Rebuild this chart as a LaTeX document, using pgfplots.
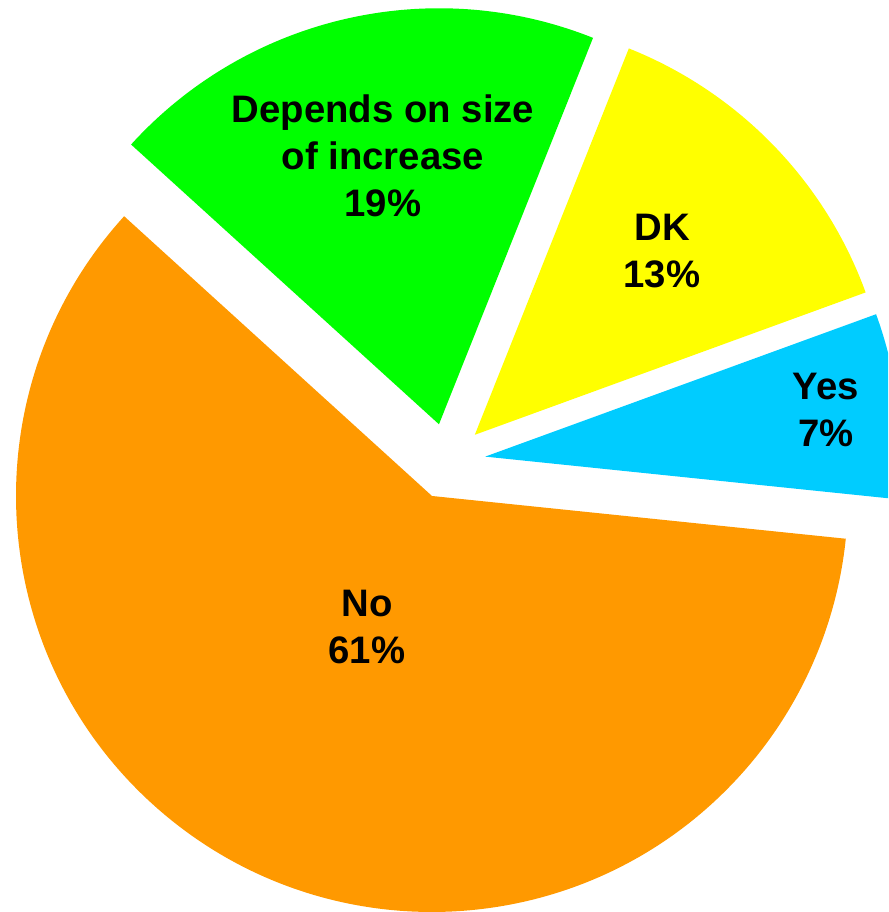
\documentclass[border=0pt]{standalone}
\usepackage{fontspec}
\setmainfont{Liberation Sans}
\usepackage{pgfplots}
\pgfplotsset{compat=1.18}

\definecolor{cblue}{HTML}{00CCFF}
\definecolor{cyellow}{HTML}{FFFF00}
\definecolor{cgreen}{HTML}{00FF00}
\definecolor{corange}{HTML}{FF9900}

% pie geometry in pixel units (1 px = 0.01 cm)
\def\pcx{447.5}\def\pcy{450.7}\def\pexp{38}\def\pstart{-5.9}

% #1 = cumulative share before the slice, #2 = share (%), #3 = colour
\newcommand\slice[3]{%
  \pgfmathsetmacro\aS{\pstart+3.6*#1}%
  \pgfmathsetmacro\aE{\pstart+3.6*(#1+#2)}%
  \pgfmathsetmacro\aM{(\aS+\aE)/2}%
  \pgfmathsetmacro\sx{\pcx+\pexp*cos(\aM)}%
  \pgfmathsetmacro\sy{\pcy+\pexp*sin(\aM)}%
  \edef\doslice{\noexpand\fill[#3] (axis cs:\sx,\sy) -- ++(\aS:4.16cm)
    arc[start angle=\aS,end angle=\aE,radius=4.16cm] -- cycle;}%
  \doslice
}

\begin{document}
\begin{tikzpicture}
\begin{axis}[
  width=8.88cm, height=9.12cm, scale only axis,
  xmin=0, xmax=888, ymin=0, ymax=912,
  hide axis, clip=true,
]
\addplot[draw=none] coordinates {(0,0) (888,912)};
% shares as plotted
\slice{0}{7.2}{cblue}
\slice{7.2}{13.4}{cyellow}
\slice{20.6}{19.3}{cgreen}
\slice{39.9}{60.1}{corange}

\begin{scope}[every node/.style={align=center,
    font=\bfseries\fontsize{10.9}{13.4}\selectfont}]
\node at (axis cs:383,756) {Depends on size\\of increase\\19\%};
\node at (axis cs:662,661) {DK\\13\%};
\node at (axis cs:826,502) {Yes\\7\%};
\node at (axis cs:367,285) {No\\61\%};
\end{scope}
\end{axis}
\end{tikzpicture}
\end{document}
